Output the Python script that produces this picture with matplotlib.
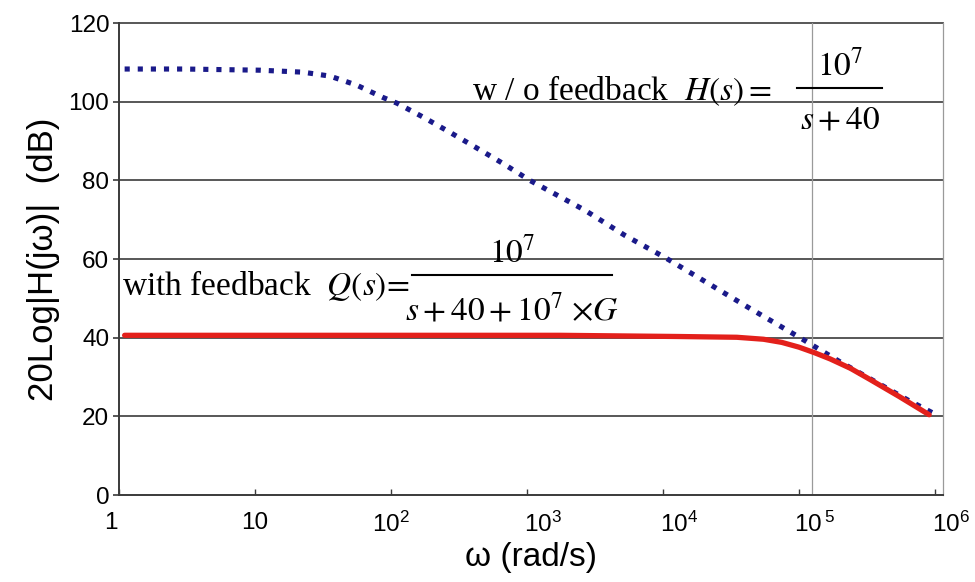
# -*- coding: UTF-8 -*-
# Bode magnitude: open loop H(s) vs closed loop Q(s)

# Libraries
import matplotlib
matplotlib.use('Agg')
import matplotlib.pyplot as plt
from matplotlib.lines import Line2D
import matplotlib.transforms as mtransforms

# Data
wBlue = [1.1, 3, 10.9, 22.5, 35.6, 56, 87, 111, 172, 272, 429, 666, 1050,
         2670, 5260, 10350, 20400, 41500, 102000, 200000, 630000, 1000000]
dbBlue = [108.3, 108.3, 108.0, 107.5, 106.5, 104.2, 101.1, 99.6, 96.1, 92.2, 88.2, 84.3, 80.0,
          72.4, 66.0, 60.4, 54.3, 47.9, 40.0, 33.9, 24.2, 20.6]
wRed = [1.1, 1750, 12700, 35000, 55000, 75000, 100000, 130000, 170000, 240000, 333000, 550000, 910000]
dbRed = [40.6, 40.6, 40.3, 40.1, 39.6, 38.8, 37.6, 36.2, 34.6, 32.2, 29.4, 25.0, 20.4]
xTicks = [1, 10, 100, 1000, 10000, 100000, 1000000]
xTickLabels = ['1', '10', r'$\mathregular{10^2}$', r'$\mathregular{10^3}$',
               r'$\mathregular{10^4}$', r'$\mathregular{10\,^5}$', r'$\mathregular{10^6}$']
yTicks = [0, 20, 40, 60, 80, 100, 120]
markerW = 1.25e5  # thin vertical reference line

# Style
plt.rcParams['font.family'] = ['Liberation Sans', 'DejaVu Sans']
plt.rcParams['mathtext.fontset'] = 'stix'
darkGrid = '#4a4a4a'
lightGrid = '#9a9a9a'
blueColor = '#1a1a8a'
redColor = '#e3201b'

fig = plt.figure(figsize=(9.75, 5.82), dpi=100)
ax = fig.add_axes([119/975, 1-495/582, 824/975, 472/582])
ax.set_xscale('log')
ax.set_xlim(1, 1.15e6)
ax.set_ylim(0, 120)

# Grid and frame
for yv in yTicks[1:]:
    ax.axhline(yv, color=darkGrid, lw=1.3, zorder=1, clip_on=False)
ax.axvline(markerW, color=lightGrid, lw=0.9, zorder=1)
ax.spines['top'].set_visible(False)
ax.spines['right'].set_color(lightGrid)
ax.spines['right'].set_linewidth(0.9)
for sp in ['left', 'bottom']:
    ax.spines[sp].set_color('#3a3a3a')
    ax.spines[sp].set_linewidth(1.4)

# Curves
ax.plot(wBlue, dbBlue, color=blueColor, lw=3.7, linestyle=(0, (1, 1.55)),
        dash_capstyle='butt', zorder=3)
ax.plot(wRed, dbRed, color=redColor, lw=3.8, solid_capstyle='round',
        solid_joinstyle='round', zorder=4)

# Ticks
ax.set_yticks(yTicks)
ax.tick_params(axis='y', direction='out', length=4, width=1.2, color='#3a3a3a',
               labelsize=17.5, pad=3)
ax.set_xticks(xTicks)
ax.set_xticklabels(xTickLabels)
ax.minorticks_off()
ax.tick_params(axis='x', direction='in', length=4, width=1.0, color='#3a3a3a',
               labelsize=17.5, pad=12)
for i, lab in enumerate(ax.get_xticklabels()):
    if i == 0:
        lab.set_transform(lab.get_transform() + mtransforms.ScaledTranslation(-8/100, 0, fig.dpi_scale_trans))
    elif i >= 3:
        lab.set_transform(lab.get_transform() + mtransforms.ScaledTranslation(16/100, 0, fig.dpi_scale_trans))

ax.set_ylabel('20Log|H(jω)|  (dB)', fontsize=25, labelpad=6)
ax.set_xlabel('ω (rad/s)', fontsize=24, labelpad=4)

# Equations
serif = ['Liberation Serif', 'DejaVu Serif']
eqSize = 24
ax.text(0.4284, 0.8369, r'w / o feedback  $H(s) =$', transform=ax.transAxes,
        fontsize=eqSize, family=serif, ha='left', va='baseline', zorder=5)
ax.text(0.875, 0.8898, r'$10^7$', transform=ax.transAxes,
        fontsize=eqSize, family=serif, ha='center', va='baseline', zorder=5)
ax.add_line(Line2D([0.8228, 0.926], [0.8623, 0.8623], transform=ax.transAxes,
                   color='black', lw=1.5, zorder=5))
ax.text(0.875, 0.7775, r'$s+40$', transform=ax.transAxes,
        fontsize=eqSize, family=serif, ha='center', va='baseline', zorder=5)

ax.text(0.004, 0.4237, r'with feedback  $Q(s)\!=$', transform=ax.transAxes,
        fontsize=eqSize, family=serif, ha='left', va='baseline', zorder=5)
ax.text(0.4769, 0.4936, r'$10^7$', transform=ax.transAxes,
        fontsize=eqSize, family=serif, ha='center', va='baseline', zorder=5)
ax.add_line(Line2D([0.3556, 0.598], [0.4661, 0.4661], transform=ax.transAxes,
                   color='black', lw=1.5, zorder=5))
ax.text(0.4769, 0.3708, r'$s+40+10^{7}\ {\times}G$', transform=ax.transAxes,
        fontsize=eqSize, family=serif, ha='center', va='baseline', zorder=5)

plt.savefig('out.png', dpi=100)
